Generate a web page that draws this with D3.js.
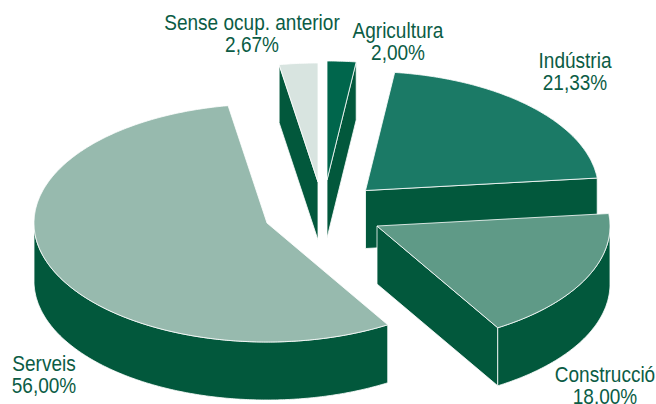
<!DOCTYPE html>
<html>
<head>
<meta charset="utf-8">
<script src="https://cdn.jsdelivr.net/npm/d3@7/dist/d3.min.js"></script>
<style>
html,body{margin:0;padding:0;background:#fff;}
svg{display:block;}
text{font-family:"Liberation Sans",sans-serif;font-size:22px;fill:#0b5c45;text-anchor:middle;}
</style>
</head>
<body>
<svg id="c" width="656" height="404"></svg>
<script>
const categories = ["Agricultura","Indústria","Construcció","Serveis","Sense ocup. anterior"];
const values = [2.00,21.33,18.00,56.00,2.67];
const valueLabels = ["2,00%","21,33%","18.00%","56,00%","2,67%"];
const topColors = ["#00664c","#1b7a66","#5f9a87","#97baae","#d8e4e0"];
const wallColor = "#02583c";
const centers = [[327,180],[365.5,190.5],[377,226],[267,223],[318,182]];
const labelPos = [[398,38],[575,68],[605,382],[44,371],[252,30]];
const drawOrder = [3,4,0,1,2];

const rx = 233, ry = 119, depth = 58, narrow = 0.865;
const xs = d3.scaleLinear().domain([-1,1]).range([-rx,rx]);
const ys = d3.scaleLinear().domain([-1,1]).range([-ry,ry]);
const svg = d3.select("#c");
const line = d3.line();
const arcs = d3.pie().sort(null).value(d=>d)(values);

const rim = (c,t,dz=0)=>[c[0]+xs(Math.sin(t)), c[1]+ys(-Math.cos(t))+dz];
const arcPts = (c,a,b,dz=0)=>{
  const n = Math.max(2,Math.ceil(Math.abs(b-a)/0.01));
  return d3.range(n+1).map(i=>rim(c,a+(b-a)*i/n,dz));
};
const cross = (u,v)=>u[0]*v[1]-u[1]*v[0];

function drawSlice(i){
  const a = arcs[i], c = centers[i];
  const g = svg.append("g");
  const mid = (a.startAngle+a.endAngle)/2;
  const rel = t=>{const p=rim(c,t);return [p[0]-c[0],p[1]-c[1]];};
  [a.startAngle,a.endAngle].forEach(t=>{
    const e = rel(t), m = rel(mid);
    if (cross(e,m)*cross(e,[0,1])<0){
      const r = rim(c,t);
      g.append("path").attr("d",line([c,r,[r[0],r[1]+depth],[c[0],c[1]+depth]])+"Z")
        .attr("fill",wallColor).attr("stroke","#fff").attr("stroke-width",0.8);
    }
  });
  const s = Math.max(a.startAngle,Math.PI/2), en = Math.min(a.endAngle,3*Math.PI/2);
  if (en>s){
    const pts = arcPts(c,s,en).concat(arcPts(c,en,s,depth));
    g.append("path").attr("d",line(pts)+"Z")
      .attr("fill",wallColor).attr("stroke","#fff").attr("stroke-width",0.8);
  }
  g.append("path").attr("d",line([c].concat(arcPts(c,a.startAngle,a.endAngle)))+"Z")
    .attr("fill",topColors[i]).attr("stroke","#fff").attr("stroke-width",0.8);
}
drawOrder.forEach(drawSlice);

categories.forEach((name,i)=>{
  const g = svg.append("g").attr("transform",`translate(${labelPos[i][0]},${labelPos[i][1]}) scale(${narrow},1)`);
  g.append("text").text(name);
  g.append("text").attr("y",22).text(valueLabels[i]);
});
</script>
</body>
</html>
